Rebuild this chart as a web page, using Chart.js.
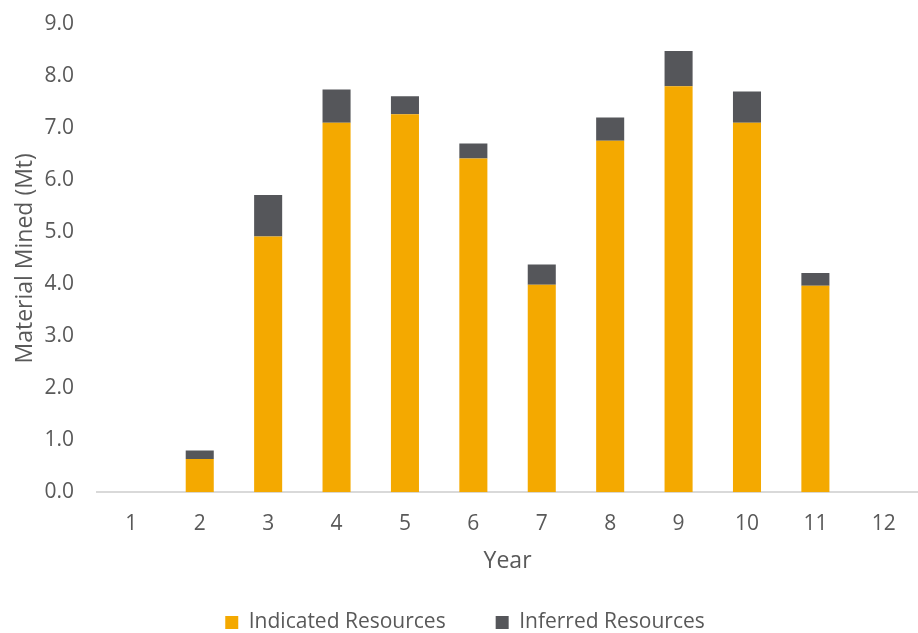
<!DOCTYPE html>
<html>
<head>
<meta charset="utf-8">
<script src="https://cdn.jsdelivr.net/npm/chart.js@4/dist/chart.umd.min.js"></script>
<style>
  html, body { margin: 0; padding: 0; background: #fff; }
  #wrap { width: 918px; height: 633px; position: relative; }
</style>
</head>
<body>
<div id="wrap"><canvas id="chart"></canvas></div>
<script>
// Chart data
const years = ['1', '2', '3', '4', '5', '6', '7', '8', '9', '10', '11', '12'];
const indicated = [0, 0.64, 4.92, 7.11, 7.27, 6.42, 3.99, 6.76, 7.81, 7.11, 3.97, 0];
const inferred = [0, 0.16, 0.80, 0.64, 0.35, 0.29, 0.39, 0.45, 0.68, 0.60, 0.25, 0];
const yTicks = [0, 1, 2, 3, 4, 5, 6, 7, 8, 9];

const textColor = '#595959';
const fontFamily = "'Open Sans', 'Noto Sans', sans-serif";

new Chart(document.getElementById('chart'), {
    type: 'bar',
    data: {
        labels: years,
        datasets: [
            {
                label: 'Indicated Resources',
                data: indicated,
                backgroundColor: '#F4A900',
                barPercentage: 0.41,
                categoryPercentage: 1
            },
            {
                label: 'Inferred Resources',
                data: inferred,
                backgroundColor: '#55565A',
                barPercentage: 0.41,
                categoryPercentage: 1
            }
        ]
    },
    options: {
        responsive: true,
        maintainAspectRatio: false,
        animation: false,
        layout: {
            padding: { top: 0, right: 0, left: 12, bottom: -10 }
        },
        scales: {
            x: {
                stacked: true,
                grid: { display: false },
                border: { display: true, color: '#D9D9D9', width: 2 },
                ticks: {
                    color: textColor,
                    padding: 11,
                    font: { family: fontFamily, size: 21 }
                },
                title: {
                    display: true,
                    text: 'Year',
                    color: textColor,
                    // negative bottom padding pulls the axis closer to the legend
                    padding: { top: 0, bottom: -13 },
                    font: { family: fontFamily, size: 23 }
                }
            },
            y: {
                stacked: true,
                min: 0,
                max: 9,
                afterBuildTicks: axis => {
                    axis.ticks = yTicks.map(v => ({ value: v }));
                },
                grid: { display: false },
                border: { display: false },
                ticks: {
                    color: textColor,
                    padding: 15,
                    font: { family: fontFamily, size: 21, lineHeight: 0.9 },
                    callback: value => Number(value).toFixed(1)
                },
                title: {
                    display: true,
                    text: 'Material Mined (Mt)',
                    color: textColor,
                    padding: { top: 0, bottom: -10 },
                    font: { family: fontFamily, size: 23 }
                }
            }
        },
        plugins: {
            legend: {
                position: 'bottom',
                labels: {
                    color: textColor,
                    boxWidth: 13,
                    boxHeight: 13,
                    padding: 50,
                    font: { family: fontFamily, size: 21 }
                }
            },
            tooltip: { enabled: false }
        }
    }
});
</script>
</body>
</html>
